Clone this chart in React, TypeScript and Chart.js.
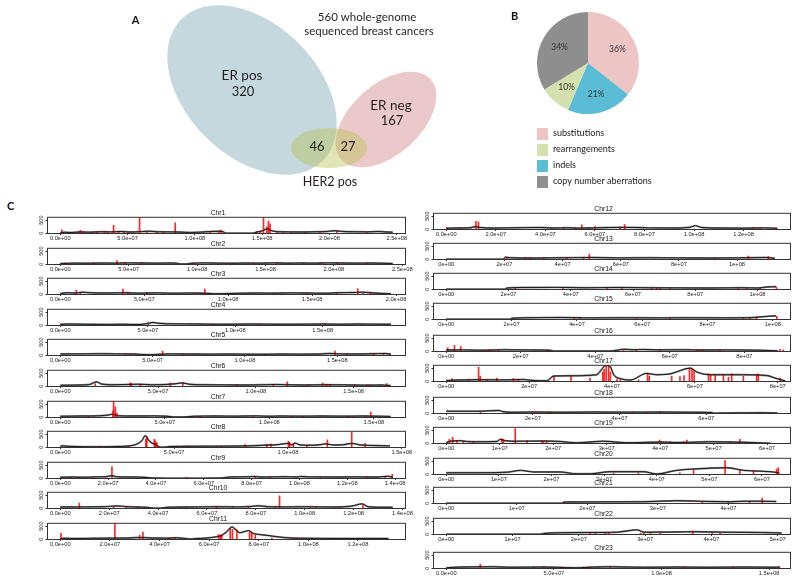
import React, { useEffect, useRef } from 'react';
import { Chart, registerables } from 'chart.js';

Chart.register(...registerables);

const AXIS_FONT = '"Liberation Sans", Arial, Helvetica, sans-serif';
const LABEL_FONT = 'Lato, "Open Sans", sans-serif';
const TEXT_COLOR = '#231f20';

// ---------------- Panel A: Venn ----------------
const vennSetNames = ['ER pos', 'ER neg', 'HER2 pos'];
const vennCentreX = [252, 386, 329];
const vennCentreY = [90, 119.5, 148];
const vennRadiusX = [100, 60, 38];
const vennRadiusY = [66, 35, 20];
const vennTiltDeg = [45, -42, 0];
const vennFills = ['rgb(197,216,221)', 'rgba(233,196,197,0.93)', 'rgba(180,192,80,0.42)'];

const vennTexts = ['560 whole-genome', 'sequenced breast cancers', 'ER pos', '320', 'ER neg', '167', '46', '27', 'HER2 pos'];
const vennTextX = [367, 369, 242, 243, 391, 392, 317, 348, 330];
const vennTextY = [20.7, 35, 80, 96, 110, 125, 151, 151, 186];
const vennTextSize = [11.5, 11.5, 13.5, 13, 13.5, 13, 13, 13, 12.5];

// ---------------- Panel B: pie ----------------
const pieCategories = ['substitutions', 'indels', 'rearrangements', 'copy number aberrations'];
const piePercent = [36, 21, 10, 34];
const pieColors = ['#ecc5c4', '#5bbcd5', '#d4e1ae', '#8e8e8e'];
const legendOrder = ['substitutions', 'rearrangements', 'indels', 'copy number aberrations'];

// ---------------- Panel C: chromosomes (positions in Mb, values = counts) ----------------
const chromNames = ['Chr1', 'Chr2', 'Chr3', 'Chr4', 'Chr5', 'Chr6', 'Chr7', 'Chr8', 'Chr9', 'Chr10', 'Chr11', 'Chr12',
  'Chr13', 'Chr14', 'Chr15', 'Chr16', 'Chr17', 'Chr18', 'Chr19', 'Chr20', 'Chr21', 'Chr22', 'Chr23'];
const chromLengthMb = [247, 243, 198, 190, 180, 170, 159, 146, 139, 136, 134, 133.8, 114, 106.5, 101.5, 89, 80, 76.5, 62, 63, 47, 50, 154];
const tickStepMb = [50, 50, 50, 50, 50, 50, 50, 50, 20, 20, 20, 20, 20, 20, 20, 20, 20, 20, 10, 10, 10, 10, 50];
const tickLastMb = [250, 250, 200, 150, 150, 150, 150, 150, 140, 140, 120, 120, 100, 100, 100, 80, 80, 60, 60, 60, 40, 50, 150];
const tickDigits = [1, 1, 1, 1, 1, 1, 1, 1, 1, 1, 1, 1, 0, 0, 0, 0, 0, 0, 0, 0, 0, 0, 1];
const yTickValues = [0, 500];
const yRange = [-25, 625];

type P = [number, number];

const chr1Line: P[] = [[0,20],[3,40],[8,30],[15,50],[22,45],[30,60],[38,55],[45,70],[52,50],[60,65],[66,80],[72,60],[80,55],[88,50],[96,35],[104,45],[112,70],[118,80],[121,60],[123,5],[143,5],[146,50],[150,90],[152,140],[154,170],[157,100],[162,60],[170,55],[180,50],[190,60],[198,70],[204,100],[210,70],[220,60],[228,55],[236,70],[243,50],[247,45]];
const chr1Bars: P[] = [[1.2,130],[14.9,110],[17.3,80],[23.5,60],[27.2,60],[32.7,80],[35.1,50],[39.6,300],[43.3,60],[47.5,60],[50.7,40],[58.9,600],[64.4,60],[71.8,40],[76.7,40],[85.4,400],[111.4,50],[117.6,80],[119.3,120],[146,70],[148.5,80],[151,600],[153.5,250],[154.7,460],[155.9,360],[160.9,60],[165.8,50],[171.3,40],[181.9,40],[193,40],[205.4,80],[227.7,60]];
const chr2Line: P[] = [[0,30],[10,45],[20,40],[30,50],[40,45],[50,55],[60,50],[70,45],[80,50],[85,40],[88,10],[92,10],[96,40],[106,55],[116,45],[126,40],[136,50],[146,45],[156,55],[166,45],[176,50],[186,45],[196,55],[206,50],[216,45],[226,50],[236,40],[243,30]];
const chr2Bars: P[] = [[3.7,50],[24.4,60],[41.4,140],[47.5,70],[59.7,60],[97.4,40],[126.6,40],[141.2,40],[158.3,50],[168,40],[177.8,40],[189.9,50],[202.1,60],[224,50]];
const chr3Line: P[] = [[0,30],[4,60],[9,50],[13,80],[18,60],[28,50],[38,60],[48,45],[58,55],[68,40],[78,50],[87,40],[92,20],[97,25],[107,40],[117,50],[127,45],[137,55],[147,50],[157,40],[166,60],[175,70],[180,80],[185,60],[192,30],[197,20]];
const chr3Bars: P[] = [[9.5,150],[11.9,50],[37.3,200],[40.3,90],[51.6,50],[61.5,40],[83.3,40],[86.1,200],[127,50],[146.8,40],[164.7,50],[177.2,210],[180.5,60],[184.5,60]];
const chr4Line: P[] = [[0,40],[5,50],[15,40],[25,35],[35,40],[45,30],[49,60],[53,110],[56,80],[60,60],[70,55],[80,50],[90,40],[100,45],[110,50],[120,45],[130,40],[140,45],[150,50],[160,40],[170,50],[180,45],[189,40]];
const chr4Bars: P[] = [[1,40],[19.6,40],[50.5,50],[86.6,40],[104.7,40],[114.2,40],[151.4,50],[172.3,40]];
const chr5Line: P[] = [[0,50],[10,55],[20,60],[30,55],[40,50],[44,30],[49,20],[54,40],[60,55],[70,50],[80,45],[90,50],[100,45],[110,40],[120,50],[130,45],[140,50],[146,70],[151,55],[160,50],[170,60],[176,70],[179,40]];
const chr5Bars: P[] = [[35.2,50],[37.9,40],[55.4,160],[66.7,40],[110.9,40],[148.8,160],[155.1,40],[169.6,80],[175,50],[178.6,60]];
const chr6Line: P[] = [[0,40],[10,50],[15,70],[18.5,170],[21,90],[27,60],[34,70],[40,80],[47,60],[54,70],[59,100],[62.5,130],[66,80],[74,60],[84,55],[94,50],[104,60],[110,70],[116,60],[125,50],[135,60],[145,55],[155,45],[164,50],[169,30]];
const chr6Bars: P[] = [[17.9,100],[35.8,130],[36.3,110],[40.9,80],[56.2,120],[62.7,130],[90.3,60],[109,50],[116.1,170],[126.9,60],[134.2,120],[136.2,80],[137.9,80],[150.7,60],[156.7,60],[158.4,50],[166.9,100]];
const chr7Line: P[] = [[0,40],[10,50],[19,60],[23,90],[25,120],[27.5,60],[35,50],[45,55],[51,40],[55,10],[59,15],[64,40],[74,50],[84,45],[94,55],[100,40],[105,50],[115,45],[125,50],[135,45],[145,50],[154,40],[158,35]];
const chr7Bars: P[] = [[13.5,40],[25.2,250],[25.5,620],[26.3,400],[27.1,160],[66.9,40],[92.4,40],[110.7,40],[116.3,40],[124.3,40],[137.8,40],[140.2,40],[145.8,50],[148.5,200]];
const chr8Line: P[] = [[0,30],[0.7,60],[2.9,40],[17.6,20],[24.9,30],[30,50],[33.6,120],[35.8,250],[37.3,440],[39,250],[40.5,150],[41.7,120],[43.4,20],[45.4,5],[48.3,30],[58.5,40],[68.8,45],[79,50],[84.1,60],[89.2,80],[95.1,100],[100.2,150],[101.7,90],[103.1,160],[105.3,90],[109.7,80],[114.1,100],[116.3,130],[120,90],[124.4,100],[128,150],[131.7,90],[137.5,70],[141.9,60],[144.8,55]];
const chr8Bars: P[] = [[17.6,40],[30,40],[37.6,310],[38,400],[41.3,300],[41.7,250],[42.4,180],[54.1,40],[56.3,40],[68.8,40],[70.5,40],[81.2,100],[90.7,110],[92.5,130],[100.2,230],[100.7,190],[102.4,130],[108.3,80],[117.3,280],[128,580],[133.9,150]];
const chr9Line: P[] = [[0,40],[5,50],[10,40],[15,55],[19,60],[21.5,100],[23.5,60],[29,50],[35,40],[39,10],[44,5],[59,5],[67,10],[71,50],[79,60],[81,70],[84,50],[94,60],[99,50],[100.5,70],[104,55],[114,50],[124,55],[133,50],[137,80],[139,40]];
const chr9Bars: P[] = [[0.5,40],[4.5,40],[7.7,40],[13.9,40],[21.6,440],[52.9,40],[81.5,40],[87.8,40],[108.7,40],[128.2,40],[135.8,40],[138.8,150]];
const chr10Line: P[] = [[0,50],[10,55],[18,60],[23,90],[28,60],[35,40],[38,10],[41,5],[44,40],[53,50],[63,60],[73,55],[78,70],[81,100],[85,60],[92,55],[102,60],[112,50],[119,80],[123.5,170],[126,60],[133,40],[136,40]];
const chr10Bars: P[] = [[7.8,200],[21.8,40],[27,50],[31.8,60],[49.1,40],[51.4,40],[63.8,60],[70.5,40],[77,40],[87.9,60],[89.7,470],[102.2,40],[104.7,40],[114.8,40],[123.8,120]];
const chr11Line: P[] = [[0,20],[1.3,40],[6.7,30],[13.4,40],[20.1,45],[26.9,50],[32.2,70],[37.6,50],[43,45],[47,60],[50.4,30],[52.4,10],[55.1,30],[59.1,50],[63.1,100],[65.1,150],[67.2,300],[69.2,470],[70.9,350],[72.5,250],[74.5,300],[75.9,330],[77.9,220],[80.6,180],[83.3,150],[90,70],[96.7,40],[107.4,35],[116.8,30],[123.6,35],[132.3,30]];
const chr11Bars: P[] = [[0.3,230],[22,620],[32,150],[33.3,270],[44,60],[46.3,60],[63.8,180],[64.5,160],[65.1,170],[68.5,420],[69.4,380],[71.2,350],[76.3,280],[77.2,260],[78.6,150],[85.3,50],[94,40],[95.4,40],[101.4,40],[108.1,40],[110.1,40],[115.5,30],[118.2,30],[122.2,30],[128.9,30]];
const chr12Line: P[] = [[0,40],[4.3,50],[9.7,60],[11.7,100],[13.7,70],[19.1,50],[28.5,60],[37.9,70],[43.3,50],[48.7,60],[54,45],[59.4,55],[66.2,70],[71.5,75],[76.9,70],[82.3,55],[91.7,50],[98.5,80],[100.5,140],[103.1,70],[110.6,50],[119.9,45],[128,55],[133.5,40]];
const chr12Bars: P[] = [[0.3,60],[5.6,50],[12,300],[13,280],[47.3,60],[52.1,50],[54.7,170],[57.4,60],[60.1,100],[70.2,90],[72,180],[124,80],[126.7,60],[133.4,40]];
const chr13Line: P[] = [[0,5],[19.7,5],[20.3,80],[22,60],[30,50],[40,60],[50,70],[60,55],[70,60],[80,55],[90,50],[100,55],[110,70],[113,40]];
const chr13Bars: P[] = [[20.9,70],[27.2,60],[28.9,50],[33.5,50],[41.5,50],[47.2,60],[49.2,200],[92.5,40],[103.9,120],[110.8,100]];
const chr14Line: P[] = [[0,5],[18.9,5],[19.5,50],[25,70],[35,75],[45,60],[55,70],[65,60],[75,55],[85,50],[95,60],[100,50],[103,90],[106,100]];
const chr14Bars: P[] = [[22.1,60],[37.5,50],[51.6,60],[56.4,40],[66,50],[67.6,50],[68.7,50],[71.9,50],[93.8,50],[96.5,50],[100.8,50],[106.1,80]];
const chr15Line: P[] = [[0,5],[19.6,5],[20.1,40],[25,60],[35,70],[45,55],[55,60],[65,55],[75,60],[85,55],[92,60],[96,90],[99,120],[101,130]];
const chr15Bars: P[] = [[39.2,50],[41,50],[58.3,40],[68.5,40],[91,50],[93,60],[95,80],[101.2,110]];
const chr16Line: P[] = [[0,50],[4.6,55],[10,40],[15.4,60],[19.8,55],[24.3,50],[27.9,40],[28.8,10],[44,10],[45.8,40],[47.6,80],[50.2,60],[52.9,70],[57.4,55],[64.5,60],[69,50],[75.3,55],[84.2,40],[89,20]];
const chr16Bars: P[] = [[0.4,130],[2.2,230],[3.9,180],[9.8,50],[11.4,60],[12.1,50],[14,50],[27.4,50],[47.6,50],[51.1,50],[57.4,60],[67.2,50],[68.1,50],[69,50],[73.5,50],[89.6,80],[90.5,60]];
const chr17Line: P[] = [[0,30],[2.6,50],[7.4,60],[13.8,55],[18.7,70],[20.3,40],[22.7,25],[24.3,20],[25.9,200],[29.9,210],[36.3,250],[37.5,450],[38.4,600],[39.6,550],[40.4,250],[42,100],[44.4,50],[48.4,300],[50.8,250],[54,280],[58.9,500],[60.5,350],[63.7,250],[71.7,250],[77.3,220],[79.8,100],[81.8,20]];
const chr17Bars: P[] = [[1.4,100],[5.4,80],[7.8,530],[8.2,200],[9.8,80],[12.2,120],[16.2,100],[17.4,60],[26,200],[30.1,200],[34.7,120],[37.8,350],[38.1,450],[38.6,600],[39.2,550],[39.6,350],[41.2,80],[42,60],[46.4,60],[48.6,300],[49,200],[54.4,200],[56.4,180],[57.4,220],[58.7,500],[59.3,450],[59.8,400],[63.3,280],[63.8,250],[64.9,230],[66.9,230],[68.1,150],[68.9,280],[71.7,200],[74.9,260],[75.3,280],[80.6,120]];
const chr18Line: P[] = [[0,80],[7.1,80],[12.2,110],[12.9,70],[14.9,40],[20.3,50],[26.5,40],[34.2,50],[42,45],[49.7,50],[57.4,40],[61.3,30],[61.7,5],[65.2,15],[72.9,20],[76.4,15]];
const chr18Bars: P[] = [[7.9,40],[20.3,40],[23.4,50],[24,50],[43.1,40],[46.2,40],[49.3,70]];
const chr19Line: P[] = [[0,20],[0.7,80],[2.6,100],[3.9,70],[5.7,60],[9.5,70],[10.1,150],[11,100],[13.2,80],[18.2,90],[21.3,70],[24.4,20],[29.4,80],[33.8,20],[40,50],[43.1,30],[49.3,60],[55.6,40],[60.6,5]];
const chr19Bars: P[] = [[0.6,150],[1.2,230],[2,100],[3.2,80],[5.1,60],[10.4,170],[10.7,150],[12.9,560],[15.1,100],[17.9,80],[18.2,80],[18.8,80],[39.9,120],[41.9,60],[44.4,60],[45,120],[53.1,60],[54.9,150]];
const chr20Line: P[] = [[0,60],[5.8,60],[11.5,80],[14.1,150],[16.6,90],[21.6,90],[24.8,20],[27.3,20],[31.1,100],[37.5,100],[40,15],[43.8,150],[47,200],[53.3,250],[56.5,150],[59.6,120],[62.8,70],[63.3,40]];
const chr20Bars: P[] = [[31.8,50],[36.5,60],[41.3,40],[44.4,60],[47,150],[53,520],[55.8,150],[58.4,120],[62.8,200],[63.1,250]];
const chr21Line: P[] = [[0,5],[16.6,5],[16.7,50],[23.2,55],[27.9,60],[32.7,100],[37.4,70],[40.2,60],[42.1,80],[44.5,80],[46.8,70]];
const chr21Bars: P[] = [[16.6,50],[36.3,80],[40,50],[43,50],[44.8,200]];
const chr22Line: P[] = [[0,5],[14.2,5],[14.7,30],[17.2,60],[22.2,70],[25.7,80],[28.8,170],[29.8,80],[34.8,90],[37.3,100],[42.4,80],[47.4,70],[50.6,50]];
const chr22Bars: P[] = [[21.7,50],[22.5,50],[24,60],[24.5,60],[29.3,50],[29.8,50],[30.8,50],[32.3,60],[37.2,120],[40.1,50],[41.3,50]];
const chr23Line: P[] = [[0,20],[6.5,50],[22,60],[29.7,40],[45.2,50],[54.5,30],[60.7,20],[68.4,50],[76.2,60],[91.6,40],[107.1,50],[122.6,40],[138.1,50],[153.6,40],[154.8,60]];
const chr23Bars: P[] = [[15.8,150],[40.6,50],[45.2,50],[49.1,50],[53.7,50],[63.8,50],[65.3,50],[66.9,50],[70.7,50],[76.2,40],[110.2,40],[133.4,50],[154.8,60]];

const chromLines = [chr1Line, chr2Line, chr3Line, chr4Line, chr5Line, chr6Line, chr7Line, chr8Line, chr9Line, chr10Line, chr11Line, chr12Line,
  chr13Line, chr14Line, chr15Line, chr16Line, chr17Line, chr18Line, chr19Line, chr20Line, chr21Line, chr22Line, chr23Line];
const chromBars = [chr1Bars, chr2Bars, chr3Bars, chr4Bars, chr5Bars, chr6Bars, chr7Bars, chr8Bars, chr9Bars, chr10Bars, chr11Bars, chr12Bars,
  chr13Bars, chr14Bars, chr15Bars, chr16Bars, chr17Bars, chr18Bars, chr19Bars, chr20Bars, chr21Bars, chr22Bars, chr23Bars];

// ---------------- layout ----------------
const LEFT_BOX_TOPS = [217, 248, 278, 309, 339, 370, 401, 431, 462, 492, 523];
const RIGHT_BOX_TOPS = [213, 243, 273, 303, 335, 365, 397, 427, 458, 487, 518, 552];
const YW = 17;
const PADR = 17;
const TITLE_H = 9;
const BOX_H = 17;
const XAX_H = 10;

function fmtSci(v: number, d: number) {
  const s = v.toExponential(d);
  const [m, e] = s.split('e');
  return `${m}e${e[0]}${e.slice(1).padStart(2, '0')}`;
}

const boxPlugin = {
  id: 'boxAndYLabels',
  afterDraw(chart: any) {
    const { ctx, chartArea, scales } = chart;
    ctx.save();
    ctx.strokeStyle = '#333';
    ctx.lineWidth = 1;
    ctx.strokeRect(chartArea.left + 0.5, chartArea.top + 0.5, chartArea.right - chartArea.left - 1, chartArea.bottom - chartArea.top - 1);
    ctx.font = `5.5px ${AXIS_FONT}`;
    ctx.fillStyle = '#222';
    ctx.textAlign = 'center';
    ctx.textBaseline = 'middle';
    yTickValues.forEach((v) => {
      const y = scales.y.getPixelForValue(v);
      ctx.save();
      ctx.translate(chartArea.left - 5.5, y);
      ctx.rotate(-Math.PI / 2);
      ctx.fillText(String(v), 0, 0);
      ctx.restore();
    });
    ctx.restore();
  },
};

function ChromChart({ idx }: { idx: number }) {
  const ref = useRef<HTMLCanvasElement | null>(null);
  const right = idx >= 11;
  const row = right ? idx - 11 : idx;
  const boxTop = right ? RIGHT_BOX_TOPS[row] : LEFT_BOX_TOPS[row];
  const boxLeft = right ? 433 : 47;
  const boxW = right ? 358 : 359;
  const W = YW + boxW + PADR;
  const H = TITLE_H + BOX_H + XAX_H;

  useEffect(() => {
    if (!ref.current) return;
    const L = chromLengthMb[idx];
    const ticks: number[] = [];
    for (let v = 0; v <= tickLastMb[idx] + 1e-9; v += tickStepMb[idx]) ticks.push(v);
    const linePts = chromLines[idx].map(([x, y]) => ({ x, y }));
    const barPts = chromBars[idx].map(([x, y]) => ({ x, y }));
    const chart = new Chart(ref.current, {
      type: 'scatter',
      data: {
        datasets: [
          { type: 'line', data: linePts, borderColor: 'rgba(115,115,115,0.9)', borderWidth: 1.9, pointRadius: 0, cubicInterpolationMode: 'monotone', order: 2 } as any,
          { type: 'bar', data: barPts, backgroundColor: 'rgba(255,0,0,0.85)', barThickness: 1, order: 1 } as any,
          { type: 'line', data: linePts, borderColor: '#000', borderWidth: 0.8, pointRadius: 0, cubicInterpolationMode: 'monotone', order: 0 } as any,
        ],
      },
      options: {
        responsive: false,
        animation: false,
        devicePixelRatio: 1,
        events: [],
        layout: { padding: { left: 0, right: PADR, top: 0, bottom: 0 } },
        plugins: {
          legend: { display: false },
          tooltip: { enabled: false },
          title: {
            display: true,
            text: chromNames[idx],
            color: '#111',
            font: { family: AXIS_FONT, size: 6.8, weight: 'normal', lineHeight: 1 },
            padding: { top: 2, bottom: 0 },
          },
        },
        scales: {
          x: {
            type: 'linear',
            min: -0.04 * L,
            max: 1.04 * L,
            offset: false,
            afterBuildTicks: (s: any) => { s.ticks = ticks.map((value) => ({ value })); },
            afterFit: (s: any) => { s.height = XAX_H; },
            ticks: {
              autoSkip: false, maxRotation: 0, minRotation: 0, padding: 0.3, color: '#222',
              font: { family: AXIS_FONT, size: 5.7, lineHeight: 1 },
              callback: (v: any) => fmtSci(Number(v) * 1e6, tickDigits[idx]),
            },
            grid: { display: true, drawOnChartArea: false, drawTicks: true, tickLength: 1, color: '#333', offset: false },
            border: { display: false },
          },
          y: {
            type: 'linear',
            min: yRange[0],
            max: yRange[1],
            afterBuildTicks: (s: any) => { s.ticks = yTickValues.map((value) => ({ value })); },
            afterFit: (s: any) => { s.width = YW; },
            ticks: { display: false },
            grid: { display: true, drawOnChartArea: false, drawTicks: true, tickLength: 1.5, color: '#333' },
            border: { display: false },
          },
        },
      } as any,
      plugins: [boxPlugin],
    });
    return () => chart.destroy();
  }, [idx]);

  return (
    <canvas ref={ref} width={W} height={H}
      style={{ position: 'absolute', left: boxLeft - YW, top: boxTop - TITLE_H, width: W, height: H }} />
  );
}

// ---------------- Venn chart ----------------
const vennPlugin = {
  id: 'vennShapes',
  beforeDatasetsDraw(chart: any) {
    const { ctx, scales } = chart;
    const xs = scales.x, ys = scales.y;
    vennSetNames.forEach((_, i) => {
      const cx = xs.getPixelForValue(vennCentreX[i]);
      const cy = ys.getPixelForValue(vennCentreY[i]);
      const rx = Math.abs(xs.getPixelForValue(vennCentreX[i] + vennRadiusX[i]) - cx);
      const ry = Math.abs(ys.getPixelForValue(vennCentreY[i] + vennRadiusY[i]) - cy);
      ctx.save();
      ctx.beginPath();
      ctx.ellipse(cx, cy, rx, ry, (vennTiltDeg[i] * Math.PI) / 180, 0, Math.PI * 2);
      ctx.fillStyle = vennFills[i];
      ctx.fill();
      ctx.restore();
    });
  },
  afterDatasetsDraw(chart: any) {
    const { ctx } = chart;
    const meta = chart.getDatasetMeta(0);
    ctx.save();
    ctx.fillStyle = TEXT_COLOR;
    ctx.textAlign = 'center';
    ctx.textBaseline = 'alphabetic';
    meta.data.forEach((pt: any, i: number) => {
      ctx.font = `${vennTextSize[i]}px ${LABEL_FONT}`;
      ctx.fillText(vennTexts[i], pt.x, pt.y);
    });
    ctx.font = `bold 11px ${LABEL_FONT}`;
    ctx.textAlign = 'left';
    ctx.fillStyle = '#111';
    ctx.fillText('A', chart.scales.x.getPixelForValue(131.7), chart.scales.y.getPixelForValue(24.3));
    ctx.restore();
  },
};

function VennChart() {
  const ref = useRef<HTMLCanvasElement | null>(null);
  useEffect(() => {
    if (!ref.current) return;
    const chart = new Chart(ref.current, {
      type: 'scatter',
      data: {
        datasets: [{ data: vennTextX.map((x, i) => ({ x, y: vennTextY[i] })), pointRadius: 0 }],
      },
      options: {
        responsive: false,
        animation: false,
        devicePixelRatio: 1,
        events: [],
        layout: { padding: 0 },
        plugins: { legend: { display: false }, tooltip: { enabled: false } },
        scales: {
          x: { type: 'linear', min: 100, max: 500, display: false },
          y: { type: 'linear', min: 0, max: 200, reverse: true, display: false },
        },
      } as any,
      plugins: [vennPlugin],
    });
    return () => chart.destroy();
  }, []);
  return <canvas ref={ref} width={400} height={200} style={{ position: 'absolute', left: 100, top: 0, width: 400, height: 200 }} />;
}

// ---------------- Pie chart ----------------
const pieDecorPlugin = {
  id: 'pieDecor',
  afterDatasetsDraw(chart: any) {
    const { ctx, chartArea } = chart;
    const meta = chart.getDatasetMeta(0);
    ctx.save();
    ctx.fillStyle = '#333';
    ctx.font = `8.5px ${LABEL_FONT}`;
    ctx.textAlign = 'center';
    ctx.textBaseline = 'middle';
    meta.data.forEach((arc: any, i: number) => {
      const p = arc.getProps(['x', 'y', 'startAngle', 'endAngle', 'outerRadius'], true);
      const mid = (p.startAngle + p.endAngle) / 2;
      const r = p.outerRadius * 0.64;
      ctx.fillText(`${piePercent[i]}%`, p.x + Math.cos(mid) * r, p.y + Math.sin(mid) * r);
    });
    // legend
    ctx.textAlign = 'left';
    ctx.textBaseline = 'alphabetic';
    ctx.font = `9px ${LABEL_FONT}`;
    legendOrder.forEach((name, j) => {
      const k = pieCategories.indexOf(name);
      const top = chartArea.bottom + 14 + j * 16;
      ctx.fillStyle = pieColors[k];
      ctx.fillRect(chartArea.left, top, 11, 12);
      ctx.fillStyle = '#222';
      ctx.fillText(name, chartArea.left + 16, top + 7.5);
    });
    ctx.font = `bold 11px ${LABEL_FONT}`;
    ctx.fillStyle = '#111';
    ctx.fillText('B', 6, 20);
    ctx.restore();
  },
};

function PieChart() {
  const ref = useRef<HTMLCanvasElement | null>(null);
  useEffect(() => {
    if (!ref.current) return;
    const chart = new Chart(ref.current, {
      type: 'pie',
      data: {
        labels: pieCategories,
        datasets: [{ data: piePercent, backgroundColor: pieColors, borderWidth: 0 }],
      },
      options: {
        responsive: false,
        animation: false,
        devicePixelRatio: 1,
        events: [],
        layout: { padding: { left: 32, top: 12, right: 66, bottom: 81 } },
        plugins: { legend: { display: false }, tooltip: { enabled: false } },
      } as any,
      plugins: [pieDecorPlugin],
    });
    return () => chart.destroy();
  }, []);
  return <canvas ref={ref} width={200} height={195} style={{ position: 'absolute', left: 505, top: 0, width: 200, height: 195 }} />;
}

export default function App() {
  return (
    <div style={{ position: 'absolute', left: 0, top: 0, width: 800, height: 581, background: '#fff', overflow: 'hidden' }}>
      <VennChart />
      <PieChart />
      <div style={{ position: 'absolute', left: 7, top: 199, font: `bold 11px ${LABEL_FONT}`, lineHeight: '14px', color: '#111' }}>C</div>
      {chromNames.map((n, i) => <ChromChart key={n} idx={i} />)}
    </div>
  );
}
